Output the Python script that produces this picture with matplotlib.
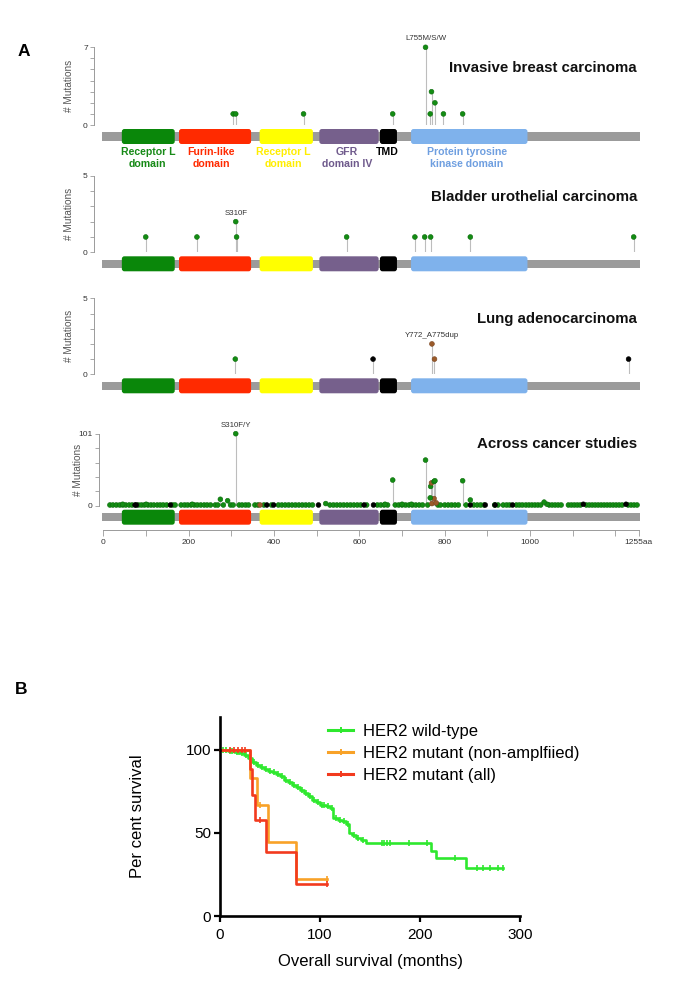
import matplotlib
matplotlib.use("Agg")
import matplotlib.pyplot as plt
import numpy as np
from matplotlib import transforms
from matplotlib.lines import Line2D
from matplotlib.patches import FancyBboxPatch, Rectangle

plt.rcParams["font.family"] = ["Liberation Sans", "DejaVu Sans"]

FIG_W, FIG_H = 675, 986
PROTEIN_LENGTH = 1255

# --- protein domains (aa) ---
DOMAIN_LABELS = ["Receptor L\ndomain", "Furin-like\ndomain", "Receptor L\ndomain",
                 "GFR\ndomain IV", "TMD", "Protein tyrosine\nkinase domain"]
DOMAIN_START = [43, 177, 366, 506, 648, 721]
DOMAIN_END = [167, 346, 491, 645, 688, 994]
DOMAIN_LABEL_AA = [104, 252, 422, 571, 665, 852]
DOMAIN_COLORS = ["#0a870a", "#ff2a00", "#ffff00", "#76608c", "#000000", "#7fb2ec"]
DOMAIN_TEXT_COLORS = ["#178a17", "#ff2a00", "#ffee00", "#6f5a8c", "#000000", "#6f9fe0"]

# --- mutations per study: position (aa), count, kind (M missense, T truncating, I inframe) ---
BREAST_POS = [304, 310, 469, 678, 755, 766, 769, 777, 797, 842]
BREAST_COUNT = [1, 1, 1, 1, 7, 1, 3, 2, 1, 1]
BREAST_KIND = ["M"] * 10

BLADDER_POS = [99, 219, 310, 312, 570, 730, 753, 767, 860, 1243]
BLADDER_COUNT = [1, 1, 2, 1, 1, 1, 1, 1, 1, 1]
BLADDER_KIND = ["M"] * 10

LUNG_POS = [309, 632, 770, 776, 1231]
LUNG_COUNT = [1, 1, 2, 1, 1]
LUNG_KIND = ["M", "T", "I", "I", "T"]

ACROSS_BASE_POS = [15, 22, 30, 38, 45, 52, 60, 67, 82, 89, 96, 104, 111, 118, 126, 133, 140, 148, 162, 168,
                   182, 190, 197, 205, 213, 220, 228, 236, 243, 251, 262, 268, 281, 298, 304, 318, 325, 333, 340,
                   355, 362, 376, 394, 410, 418, 426, 434, 442, 450, 458, 466, 474, 482, 490,
                   531, 539, 547, 555, 563, 571, 579, 587, 595, 603, 617, 642, 650, 658, 666, 684, 692, 700,
                   708, 716, 724, 732, 740, 748, 760, 784, 790, 800, 808, 816, 824, 832, 850, 868, 876, 884,
                   892, 917, 925, 937, 945, 952, 968, 975, 982, 990, 997, 1004, 1011, 1018, 1025, 1045, 1052,
                   1059, 1066, 1073, 1090, 1097, 1104, 1111, 1118, 1132, 1139, 1146, 1153, 1160, 1167, 1174,
                   1181, 1188, 1195, 1202, 1209, 1216, 1230, 1237, 1244, 1251]
ACROSS_EXTRA_POS = [45, 100, 208, 274, 291, 310, 521, 660, 678, 700, 722, 755, 766, 767, 769, 770, 775, 775,
                    777, 780, 842, 860, 1033, 1040,
                    74, 77, 157, 383, 399, 504, 611, 633, 860, 895, 918, 959, 1125, 1225, 367]
ACROSS_EXTRA_COUNT = [2, 2, 2, 9, 7, 101, 3, 2, 36, 2, 2, 64, 11, 27, 32, 3, 10, 34,
                      35, 4, 35, 8, 5, 2,
                      1, 1, 1, 1, 1, 1, 1, 1, 1, 1, 1, 1, 2, 2, 1]
ACROSS_EXTRA_KIND = ["M", "M", "M", "M", "M", "M", "M", "M", "M", "M", "M", "M", "M", "M", "I", "I", "I", "M",
                     "M", "I", "M", "M", "M", "M",
                     "T", "T", "T", "T", "T", "T", "T", "T", "T", "T", "T", "T", "T", "T", "I"]

TRACK_TITLES = ["Invasive breast carcinoma", "Bladder urothelial carcinoma",
                "Lung adenocarcinoma", "Across cancer studies"]
TRACK_YMAX = [7, 5, 5, 101]
HOTSPOT_TEXT = ["L755M/S/W", "S310F", "Y772_A775dup", "S310F/Y"]
HOTSPOT_POS = [755, 310, 770, 310]
HOTSPOT_COUNT = [7, 2, 2, 101]

RULER_MAJOR = [0, 200, 400, 600, 800, 1000, 1255]
RULER_LABELS = ["0", "200", "400", "600", "800", "1000", "1255aa"]
RULER_MINOR = [100, 300, 500, 700, 900, 1100, 1200]

# --- Kaplan-Meier (months, per cent survival) ---
WT_TIME = [0, 8, 14, 20, 24, 28, 32, 36, 40, 44, 48, 52, 56, 60, 64, 68, 72, 76, 80, 84, 88, 92, 96, 100,
           106, 110, 113, 118, 122, 126, 129, 132, 136, 141, 146, 211, 216, 246, 283]
WT_SURV = [100, 99.5, 99, 98, 97, 95, 93, 91, 89.5, 88.5, 87.5, 86.5, 85.5, 84, 82, 80.5, 79, 77.5, 76, 74,
           72, 70, 68.5, 67, 66, 65, 59, 58, 57, 55.5, 50, 48.5, 47, 46, 44, 39, 35, 29, 29]
WT_CENSOR = [3, 6, 10, 12, 17, 19, 22, 26, 30, 34, 38, 42, 46, 50, 54, 58, 62, 66, 70, 74, 78, 82, 86, 90,
             94, 98, 102, 104, 108, 112, 116, 120, 124, 128, 134, 138, 143, 162, 164, 167, 170, 189, 207,
             235, 257, 263, 270, 278, 283]

NONAMP_TIME = [0, 30, 37, 48, 76, 107]
NONAMP_SURV = [100, 83.3, 66.7, 44.4, 22.2, 22.2]
NONAMP_CENSOR = [40, 107]

ALL_TIME = [0, 30, 32, 35, 46, 76, 107]
ALL_SURV = [100, 88.5, 73, 58, 38.5, 19.3, 19.3]
ALL_CENSOR = [10, 14, 18, 22, 25, 40, 107]

KM_LABELS = ["HER2 wild-type", "HER2 mutant (non-amplfiied)", "HER2 mutant (all)"]

MUT_COLORS = {"M": "#138c13", "T": "#000000", "I": "#9a5a2a"}
MUT_EDGES = {"M": "#0b6a0b", "T": "#000000", "I": "#7a4520"}
STEM_COLOR = "#bdbdbd"
AXIS_GREY = "#9a9a9a"
WT_COLOR = "#2ee82e"
NONAMP_COLOR = "#f8a228"
ALL_COLOR = "#f23a1e"

PX_LEFT, PX_RIGHT = 103.5, 638.8


def px_axes(fig, left, top, right, bottom):
    return fig.add_axes([left / FIG_W, 1 - bottom / FIG_H, (right - left) / FIG_W, (bottom - top) / FIG_H])


def draw_protein(fig, zero_px):
    pax = px_axes(fig, PX_LEFT, zero_px + 4, PX_RIGHT, zero_px + 19)
    pax.set_xlim(0, PROTEIN_LENGTH)
    pax.set_ylim(0, 1)
    pax.axis("off")
    pax.add_patch(Rectangle((-4, 0.23), PROTEIN_LENGTH + 6, 0.54, facecolor="#9b9b9b",
                            edgecolor="none", clip_on=False))
    aspect = (1 / 15) / (PROTEIN_LENGTH / (PX_RIGHT - PX_LEFT))
    for start, end, color in zip(DOMAIN_START, DOMAIN_END, DOMAIN_COLORS):
        pax.add_patch(FancyBboxPatch((start, 0), end - start, 1,
                                     boxstyle="round,pad=0,rounding_size=6",
                                     mutation_aspect=aspect, facecolor=color,
                                     edgecolor="none", clip_on=False))
    return pax


def draw_track(fig, i, pos, count, kinds, top_px, zero_px, spine_px, ylabel_px, title_px, yticks):
    ax = px_axes(fig, PX_LEFT, top_px, PX_RIGHT, zero_px)
    ax.patch.set_alpha(0)
    ax.set_xlim(0, PROTEIN_LENGTH)
    ax.set_ylim(0, TRACK_YMAX[i])
    ax.vlines(pos, 0, count, colors=STEM_COLOR, linewidth=0.8, zorder=1)
    order = np.argsort(count)
    ax.scatter(np.array(pos)[order], np.array(count)[order], s=12,
               c=[MUT_COLORS[kinds[j]] for j in order],
               edgecolors=[MUT_EDGES[kinds[j]] for j in order],
               linewidths=0.4, zorder=3, clip_on=False)
    for side in ("top", "right", "bottom"):
        ax.spines[side].set_visible(False)
    ax.spines["left"].set_color(AXIS_GREY)
    ax.spines["left"].set_linewidth(0.7)
    ax.spines["left"].set_position(("outward", (PX_LEFT - spine_px) * 0.72))
    ax.set_xticks([])
    ax.set_yticks(yticks)
    ax.set_yticklabels(["0"] + [""] * (len(yticks) - 2) + [str(TRACK_YMAX[i])])
    ax.tick_params(axis="y", length=3, width=0.6, color=AXIS_GREY, labelcolor="#333333",
                   labelsize=6, pad=1.5)
    fig.text(ylabel_px / FIG_W, 1 - (top_px + zero_px) / 2 / FIG_H, "# Mutations", rotation=90,
             ha="center", va="center", fontsize=7.2, color="#555555")
    fig.text(637 / FIG_W, 1 - title_px / FIG_H, TRACK_TITLES[i], ha="right", va="center",
             fontsize=10.8, fontweight="bold", color="#111111")
    ax.annotate(HOTSPOT_TEXT[i], (HOTSPOT_POS[i], HOTSPOT_COUNT[i]), xytext=(0, 6.2),
                textcoords="offset points", ha="center", va="center", fontsize=5.7,
                color="#333333", annotation_clip=False)
    return ax


def step_value(times, surv, t):
    idx = np.searchsorted(times, t, side="right") - 1
    return np.array(surv)[idx]


def main():
    fig = plt.figure(figsize=(FIG_W / 100, FIG_H / 100), dpi=100, facecolor="white")

    fig.text(23.6 / FIG_W, 1 - 52 / FIG_H, "A", ha="center", va="center", fontsize=12.5, fontweight="bold")
    fig.text(21 / FIG_W, 1 - 690 / FIG_H, "B", ha="center", va="center", fontsize=12.5, fontweight="bold")

    across_pos = ACROSS_BASE_POS + ACROSS_EXTRA_POS
    across_count = [1] * len(ACROSS_BASE_POS) + ACROSS_EXTRA_COUNT
    across_kind = ["M"] * len(ACROSS_BASE_POS) + ACROSS_EXTRA_KIND

    tracks = [
        (BREAST_POS, BREAST_COUNT, BREAST_KIND, 47.3, 125, 94, 69, 68, list(range(8))),
        (BLADDER_POS, BLADDER_COUNT, BLADDER_KIND, 175.7, 252.3, 94, 69, 197.3, list(range(6))),
        (LUNG_POS, LUNG_COUNT, LUNG_KIND, 298.3, 374.3, 94, 69, 319, list(range(6))),
        (across_pos, across_count, across_kind, 433.7, 505.7, 99, 77.6, 444.3, list(np.linspace(0, 101, 6))),
    ]
    for i, (pos, count, kinds, top_px, zero_px, spine_px, ylabel_px, title_px, yticks) in enumerate(tracks):
        pax = draw_protein(fig, zero_px)
        draw_track(fig, i, pos, count, kinds, top_px, zero_px, spine_px, ylabel_px, title_px, yticks)
        if i == 0:
            blend = transforms.blended_transform_factory(pax.transData, fig.transFigure)
            for label, x, color in zip(DOMAIN_LABELS, DOMAIN_LABEL_AA, DOMAIN_TEXT_COLORS):
                y_px = 151.7 if "\n" not in label else 158
                pax.text(x, 1 - y_px / FIG_H, label, transform=blend, ha="center", va="center",
                         fontsize=7.6, fontweight="bold", color=color, linespacing=1.15)

    # ruler under the last track
    rax = px_axes(fig, PX_LEFT, 529, PX_RIGHT, 530)
    rax.set_xlim(0, PROTEIN_LENGTH)
    rax.set_yticks([])
    for side in ("top", "right", "left"):
        rax.spines[side].set_visible(False)
    rax.spines["bottom"].set_color(AXIS_GREY)
    rax.spines["bottom"].set_linewidth(0.7)
    rax.set_xticks(RULER_MAJOR)
    rax.set_xticklabels(RULER_LABELS)
    rax.set_xticks(RULER_MINOR, minor=True)
    rax.tick_params(axis="x", which="both", direction="out", length=4.5, width=0.6, color=AXIS_GREY,
                    labelsize=6, labelcolor="#333333", pad=2)
    rax.patch.set_alpha(0)

    # --- panel B: Kaplan-Meier ---
    kax = px_axes(fig, 220, 716.7, 520, 916)
    kax.set_xlim(0, 300)
    kax.set_ylim(0, 120)
    curves = [
        (WT_TIME, WT_SURV, WT_CENSOR, WT_COLOR),
        (NONAMP_TIME, NONAMP_SURV, NONAMP_CENSOR, NONAMP_COLOR),
        (ALL_TIME, ALL_SURV, ALL_CENSOR, ALL_COLOR),
    ]
    handles = []
    for (times, surv, censor, color), label in zip(curves, KM_LABELS):
        kax.step(times, surv, where="post", color=color, linewidth=1.9, clip_on=False)
        kax.plot(censor, step_value(times, surv, censor), linestyle="none", marker="|",
                 markersize=4, markeredgewidth=1.2, color=color, clip_on=False)
        handles.append(Line2D([], [], color=color, linewidth=2.2, marker="|", markersize=5,
                              markeredgewidth=1.4, label=label))
    kax.spines["top"].set_visible(False)
    kax.spines["right"].set_visible(False)
    for side in ("left", "bottom"):
        kax.spines[side].set_linewidth(1.9)
        kax.spines[side].set_color("black")
    kax.set_xticks([0, 100, 200, 300])
    kax.set_yticks([0, 50, 100])
    kax.tick_params(length=4.5, width=1.6, labelsize=11, pad=2)
    kax.tick_params(axis="x", pad=4)
    kax.set_xlabel("Overall survival (months)", fontsize=12, labelpad=9)
    kax.set_ylabel("Per cent survival", fontsize=12, labelpad=29)
    kax.legend(handles=handles, loc="upper left", bbox_to_anchor=(328 / FIG_W, 1 - 724 / FIG_H),
               bbox_transform=fig.transFigure, frameon=False, fontsize=12, borderpad=0,
               borderaxespad=0, handlelength=1.5, handletextpad=0.6, labelspacing=0.42)

    fig.savefig("out.png", dpi=100, facecolor="white")
    plt.close(fig)


if __name__ == "__main__":
    main()
